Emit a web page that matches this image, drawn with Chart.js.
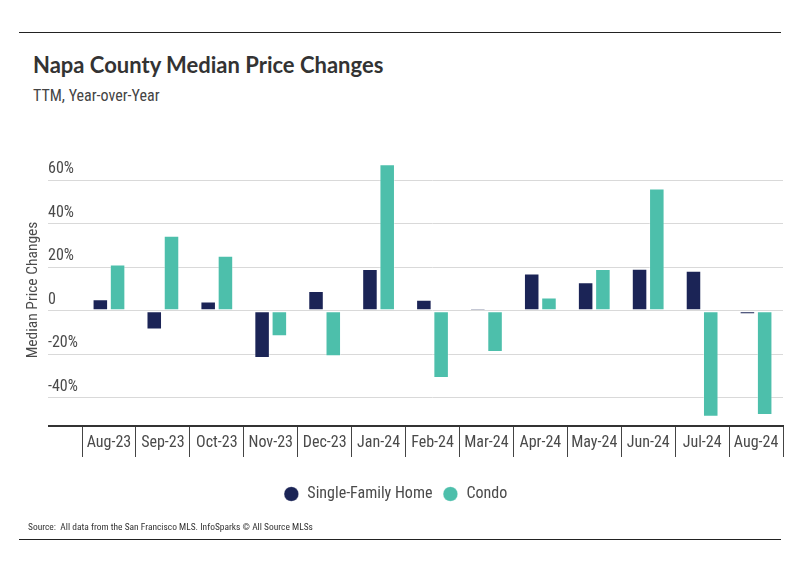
<!DOCTYPE html>
<html>
<head>
<meta charset="utf-8">
<title>Napa County Median Price Changes</title>
<script src="https://cdn.jsdelivr.net/npm/chart.js@4.4.1/dist/chart.umd.min.js"></script>
<style>
  body{margin:0;background:#fff;}
  #wrap{position:relative;width:799px;height:575px;overflow:hidden;}
  .rule{position:absolute;left:19px;width:762px;height:1px;background:#222;}
  #title{position:absolute;left:33px;top:52px;font:bold 22px/25px Lato,sans-serif;color:#333;white-space:nowrap;}
  #sub{position:absolute;left:33px;top:86px;font:16px/19px 'Roboto Condensed',sans-serif;color:#444;white-space:nowrap;}
  #source{position:absolute;left:28px;top:521px;font:9.45px/12px 'Roboto Condensed',sans-serif;color:#333;white-space:nowrap;}
  canvas{position:absolute;left:0;top:0;}
</style>
</head>
<body>
<div id="wrap">
  <div class="rule" style="top:32px"></div>
  <div id="title">Napa County Median Price Changes</div>
  <div id="sub">TTM, Year-over-Year</div>
  <canvas id="ch-price" width="799" height="575"></canvas>
  <div id="source">Source:&nbsp; All data from the San Francisco MLS. InfoSparks © All Source MLSs</div>
  <div class="rule" style="top:539px"></div>
</div>
<script>
// ── data ────────────────────────────────────────────
const months=['Aug-23','Sep-23','Oct-23','Nov-23','Dec-23','Jan-24','Feb-24','Mar-24','Apr-24','May-24','Jun-24','Jul-24','Aug-24'];
const sfh  =[5.2,-8.7,4.2,-21.7,9.0,19.1,5.0,1.2,17.1,13.1,19.3,18.3,-1.7];
const condo=[21.2,34.4,25.2,-11.8,-20.9,67.3,-30.9,-19.0,6.1,19.1,56.2,-48.8,-48.0];
const yTicks=[-40,-20,0,20,40,60];
const Y_MIN=-53, Y_MAX=72;

const C={navy:'#1b2456',teal:'#4dbfab',grid:'#d9d9d9',axis:'#333',text:'#4a4a4a'};
const FONT="'Roboto Condensed', Roboto, sans-serif";

new Chart(document.getElementById('ch-price'),{
  type:'bar',
  data:{
    labels:months,
    datasets:[
      {label:'Single-Family Home',data:sfh,backgroundColor:C.navy,borderColor:'rgba(255,255,255,0.35)',borderWidth:1,borderSkipped:false},
      {label:'Condo',data:condo,backgroundColor:C.teal,borderColor:'rgba(255,255,255,0.35)',borderWidth:1,borderSkipped:false}
    ]
  },
  options:{
    responsive:false,animation:false,
    categoryPercentage:0.64,barPercentage:0.9,
    // left padding kept small so the centred legend sits where the original has it
    layout:{padding:{top:154,left:7.6,right:16,bottom:63}},
    plugins:{
      legend:{
        position:'bottom',
        labels:{usePointStyle:true,pointStyle:'circle',boxWidth:16,boxHeight:10.4,padding:10,
          color:C.text,font:{family:FONT,size:16}}
      },
      tooltip:{enabled:false}
    },
    scales:{
      y:{
        position:'left',min:Y_MIN,max:Y_MAX,
        afterBuildTicks:s=>{s.ticks=[Y_MIN,...yTicks].map(v=>({value:v}));},
        afterFit:s=>{s.width=34;},
        border:{display:false},
        grid:{
          tickLength:34,
          color:c=>c.tick&&c.tick.value===Y_MIN?C.axis:C.grid,
          lineWidth:c=>c.tick&&c.tick.value===Y_MIN?2:1
        },
        ticks:{
          crossAlign:'far',labelOffset:-11,padding:0,color:C.text,font:{family:FONT,size:16},
          callback:v=>v===Y_MIN?'':(v===0?'0':v+'%')
        }
      },
      yt:{ // outer axis that only carries the title
        position:'left',weight:1,
        grid:{display:false},border:{display:false},ticks:{display:false},
        title:{display:true,text:'Median Price Changes',color:C.text,font:{family:FONT,size:15.5},padding:{top:16,bottom:0}},
        afterFit:s=>{s.width=40.4;}
      },
      x:{
        afterFit:s=>{s.height=50;},
        border:{display:true,color:C.axis,width:2},
        grid:{drawOnChartArea:false,drawTicks:true,tickLength:31,color:'#444',lineWidth:1},
        ticks:{autoSkip:false,maxRotation:0,padding:-24,color:C.text,font:{family:FONT,size:16}}
      }
    }
  }
});
</script>
</body>
</html>
